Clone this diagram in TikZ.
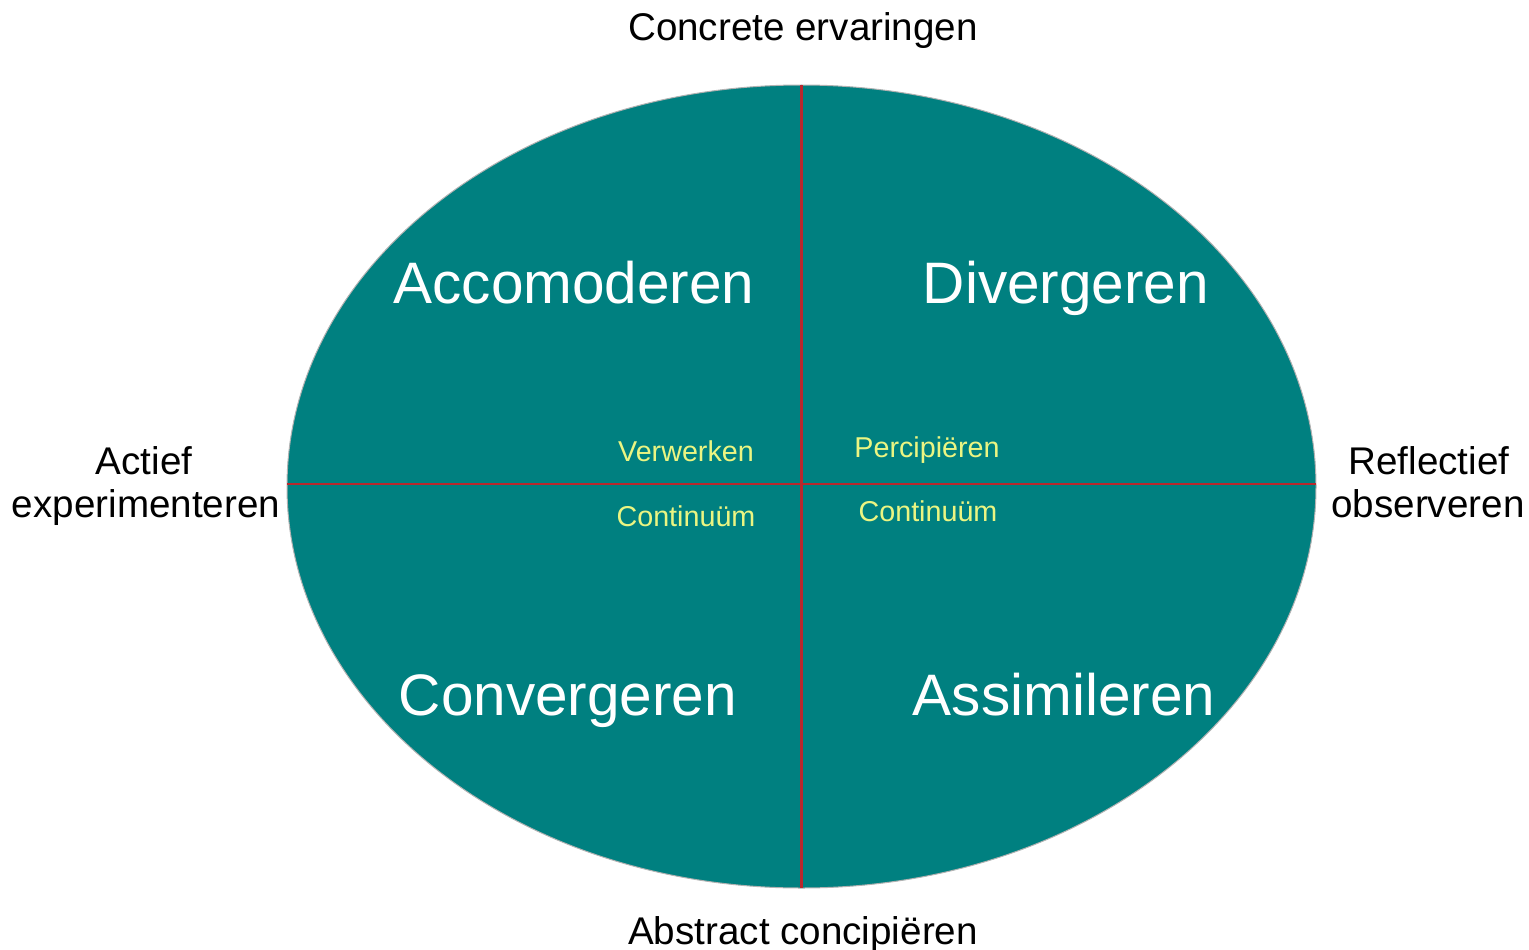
\documentclass[tikz,border=0pt]{standalone}
\usepackage{fontspec}
\setmainfont{Liberation Sans}
\definecolor{teal1}{RGB}{0,128,128}
\definecolor{axisred}{RGB}{185,40,45}
\definecolor{lightyel}{RGB}{235,245,130}
\begin{document}
\begin{tikzpicture}[x=1pt,y=-1pt,
  quad/.style={anchor=base,text=white,font=\fontsize{58.5}{60}\selectfont,inner sep=0pt},
  sub/.style={anchor=base,text=lightyel,font=\fontsize{28.7}{30}\selectfont,inner sep=0pt},
  outer/.style={anchor=base,text=black,font=\fontsize{38.6}{44}\selectfont,inner sep=0pt,align=center},
  axis/.style={draw=axisred,line width=2.4pt}]
\useasboundingbox (0,0) rectangle (1529,950);
\fill[teal1,draw=gray!60,line width=1pt] (801.5,486.5) ellipse [x radius=514.5, y radius=401.5];
\coordinate (T) at (801.5,85);
\coordinate (B) at (801.5,888);
\coordinate (L) at (287,484);
\coordinate (R) at (1316,484);
\draw[axis] (T) -- (B);
\draw[axis] (L) -- (R);
\node[quad] (acc) at (574,303) {Accomoderen};
\node[quad] (div) at (1066,303) {Divergeren};
\node[quad] (con) at (568,715) {Convergeren};
\node[quad] (ass) at (1064,715) {Assimileren};
\node[sub] (ver) at (686,461) {Verwerken};
\node[sub] (per) at (927,457) {Percipiëren};
\node[sub] (c1) at (686,526) {Continuüm};
\node[sub] (c2) at (928,521) {Continuüm};
\node[outer] (top) at (803,41) {Concrete ervaringen};
\node[outer] (bot) at (803,944) {Abstract concipiëren};
\node[outer] (l1) at (144,474) {Actief};
\node[outer] (l2) at (146,517) {experimenteren};
\node[outer] (r1) at (1429,474) {Reflectief};
\node[outer] (r2) at (1428,517) {observeren};
\end{tikzpicture}
\end{document}
